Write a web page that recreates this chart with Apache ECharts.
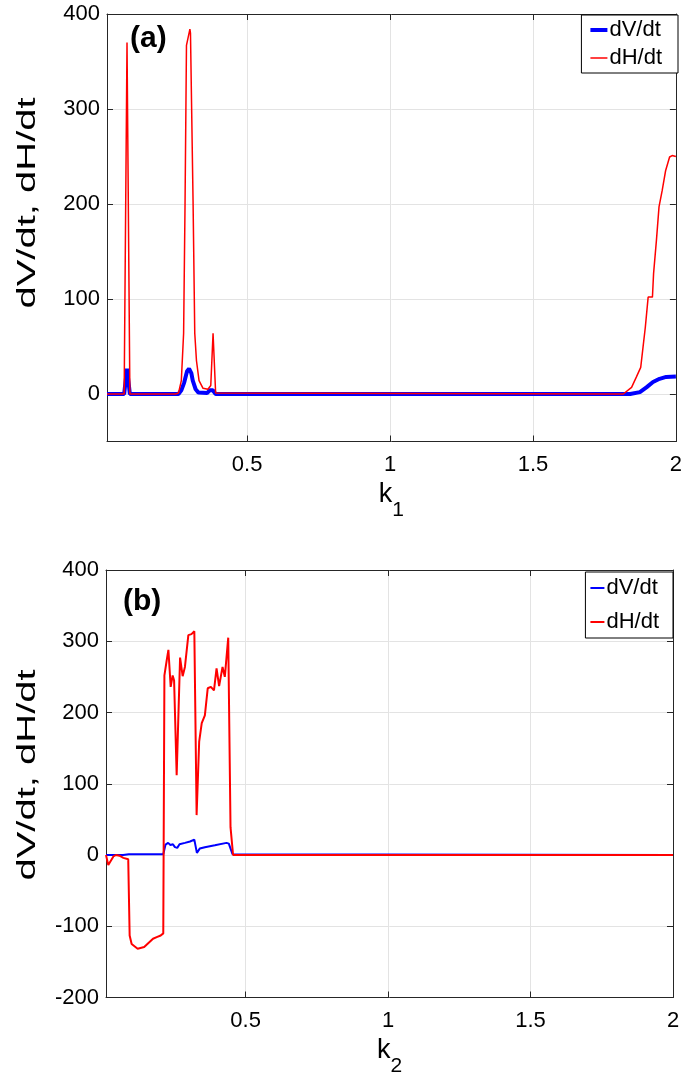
<!DOCTYPE html>
<html><head><meta charset="utf-8">
<script src="https://cdn.jsdelivr.net/npm/echarts@6/dist/echarts.min.js"></script>
<style>html,body{margin:0;padding:0;background:#fff}#c{width:685px;height:1083px}</style>
</head><body><div id="c"></div>
<script>
// ---- data ----
const xTickValues = [0.5, 1, 1.5, 2];
const yTickValuesA = [0, 100, 200, 300, 400];
const yTickValuesB = [-200, -100, 0, 100, 200, 300, 400];

// panel (a): k1
const aV_x = [0.01,0.07,0.08,0.09,0.26,0.27,0.28,0.29,0.297,0.305,0.31,0.32,0.33,0.36,0.37,0.375,0.38,0.39,1.84,1.874,1.897,1.92,1.943,1.966,2.0];
const aV_y = [0,0,26.7,0,0,4,12,24,26.7,22,14,5,1.5,1,4,6,4,0,0,2,7,12.6,16,18,18.4];
const aH_x = [0.01,0.07,0.08,0.09,0.25,0.26,0.27,0.278,0.283,0.288,0.30,0.302,0.311,0.317,0.323,0.332,0.346,0.363,0.373,0.381,0.39,1.80,1.816,1.845,1.862,1.877,1.885,1.893,1.903,1.918,1.922,1.932,1.941,1.952,1.964,1.978,1.987,2.0];
const aH_y = [0,0,370,0,0,1,14,64,200,367,384,380,204,64,35,14,6,5,9,64,1,0,0,7,18,28,49,70,102,102,127,162,197,214,235,249.5,251,250];

// panel (b): k2
const bV_x = [0.01,0.07,0.09,0.211,0.219,0.228,0.236,0.245,0.252,0.26,0.268,0.287,0.305,0.32,0.329,0.339,0.357,0.392,0.433,0.441,0.454,0.46,2.0];
const bV_y = [0,0,1,1,14.6,17,14,15,11,10,15,17,19,21.6,3,9,11,13.6,17,16,1,0,0];
const bH_x = [0.01,0.018,0.036,0.045,0.057,0.071,0.088,0.093,0.10,0.121,0.144,0.175,0.19,0.202,0.209,0.211,0.215,0.223,0.229,0.237,0.244,0.249,0.258,0.27,0.279,0.287,0.299,0.31,0.32,0.328,0.337,0.346,0.357,0.367,0.378,0.389,0.398,0.407,0.419,0.427,0.439,0.447,0.456,2.0];
const bH_y = [0,-14,-2,0,-1,-4,-6,-113,-125,-131.5,-129,-117.5,-115,-113,-112,-110,252,273,288,236,252,245,112,277,251,264,308.6,310,314,56,159,185,196,234,236,231,262,237,264,250,305,39,0,0];

const zip = (xs, ys) => xs.map((x, i) => [x, ys[i]]);

const FONT = '"Liberation Sans", Arial, sans-serif';
const AX = '#262626';
const GRIDC = '#e3e3e3';

function xAxes(grid) {
  const base = {
    type: 'value', gridIndex: grid, min: 0.01, max: 2, position: 'bottom',
    axisLine: { show: true, onZero: false, lineStyle: { color: AX, width: 1 } },
    axisTick: { show: true, inside: true, length: 6, customValues: xTickValues, lineStyle: { color: AX } },
    axisLabel: { customValues: xTickValues, fontSize: 22, fontFamily: FONT, color: '#000', margin: 12 },
    splitLine: { show: true, lineStyle: { color: GRIDC, width: 1 } },
    name: '{k|k}{s|' + (grid + 1) + '}',
    nameLocation: 'middle',
    nameGap: 40,
    nameTextStyle: {
      rich: {
        k: { fontSize: 27, fontFamily: FONT, color: '#000', lineHeight: 27, verticalAlign: 'top' },
        s: { fontSize: 21, fontFamily: FONT, color: '#000', lineHeight: 21, verticalAlign: 'top', padding: [18, 0, 0, 0] }
      }
    }
  };
  const top = {
    type: 'value', gridIndex: grid, min: 0.01, max: 2, position: 'top',
    axisLine: { show: true, onZero: false, lineStyle: { color: AX, width: 1 } },
    axisTick: { show: true, inside: true, length: 6, customValues: xTickValues, lineStyle: { color: AX } },
    axisLabel: { show: false, customValues: xTickValues },
    splitLine: { show: false }
  };
  return [base, top];
}

function yAxes(grid, min, max, ticks) {
  const left = {
    type: 'value', gridIndex: grid, min: min, max: max, position: 'left',
    axisLine: { show: true, onZero: false, lineStyle: { color: AX, width: 1 } },
    axisTick: { show: true, inside: true, length: 6, customValues: ticks, lineStyle: { color: AX } },
    axisLabel: { customValues: ticks, fontSize: 22, fontFamily: FONT, color: '#000', margin: 7 },
    splitLine: { show: true, lineStyle: { color: GRIDC, width: 1 } }
  };
  const right = {
    type: 'value', gridIndex: grid, min: min, max: max, position: 'right',
    axisLine: { show: true, onZero: false, lineStyle: { color: AX, width: 1 } },
    axisTick: { show: true, inside: true, length: 6, customValues: ticks, lineStyle: { color: AX } },
    axisLabel: { show: false, customValues: ticks },
    splitLine: { show: false }
  };
  return [left, right];
}

const chart = echarts.init(document.getElementById('c'), null, { renderer: 'canvas' });

const lineSeries = (name, xi, yi, data, color, width, z) => ({
  type: 'line', name: name, xAxisIndex: xi, yAxisIndex: yi, data: data,
  symbol: 'none', showSymbol: false, animation: false, z: z,
  lineStyle: { color: color, width: width }, itemStyle: { color: color }
});

const hiddenSym = { opacity: 0 };

chart.setOption({
  animation: false,
  backgroundColor: '#fff',
  grid: [
    { left: 107, right: 7, top: 14, height: 427.5 },
    { left: 106, right: 12, top: 570, height: 427.5 }
  ],
  xAxis: [...xAxes(0), ...xAxes(1)],
  yAxis: [...yAxes(0, -50, 400, yTickValuesA), ...yAxes(1, -200, 400, yTickValuesB)],
  legend: [
    {
      orient: 'vertical', right: 7, top: 15, align: 'left',
      backgroundColor: '#fff', borderColor: '#000', borderWidth: 1, borderRadius: 0,
      padding: [4, 16, 4, 7], itemGap: 6, itemWidth: 17, itemHeight: 14,
      textStyle: { fontSize: 22, fontFamily: FONT, color: '#000', padding: [0, 0, 0, -3] },
      selectedMode: false,
      itemStyle: hiddenSym,
      data: [
        { name: 'dV/dt', itemStyle: hiddenSym, lineStyle: { width: 4, color: '#0000ff' } },
        { name: 'dH/dt', itemStyle: hiddenSym, lineStyle: { width: 1.5, color: '#ff0000' } }
      ]
    },
    {
      orient: 'vertical', right: 12, top: 572, align: 'left',
      backgroundColor: '#fff', borderColor: '#000', borderWidth: 1, borderRadius: 0,
      padding: [5, 14, 5, 4], itemGap: 12, itemWidth: 14, itemHeight: 14,
      textStyle: { fontSize: 22, fontFamily: FONT, color: '#000', padding: [0, 0, 0, -3] },
      selectedMode: false,
      itemStyle: hiddenSym,
      data: [
        { name: 'dV/dt', itemStyle: hiddenSym, lineStyle: { width: 2, color: '#0000ff' } },
        { name: 'dH/dt', itemStyle: hiddenSym, lineStyle: { width: 2, color: '#ff0000' } }
      ]
    }
  ],
  graphic: [
    { type: 'text', left: 130, top: 24, z: 100,
      style: { text: '(a)', fontSize: 30, fontWeight: 'bold', fontFamily: FONT, fill: '#000' } },
    { type: 'text', left: 123, top: 587, z: 100,
      style: { text: '(b)', fontSize: 30, fontWeight: 'bold', fontFamily: FONT, fill: '#000' } },
    { type: 'text', x: 28, y: 203, rotation: Math.PI / 2, scaleX: 1.6, z: 100,
      style: { text: 'dV/dt, dH/dt', fontSize: 25, fontFamily: FONT, fill: '#000', align: 'center', verticalAlign: 'middle' } },
    { type: 'text', x: 28, y: 775, rotation: Math.PI / 2, scaleX: 1.6, z: 100,
      style: { text: 'dV/dt, dH/dt', fontSize: 25, fontFamily: FONT, fill: '#000', align: 'center', verticalAlign: 'middle' } }
  ],
  series: [
    lineSeries('dV/dt', 0, 0, zip(aV_x, aV_y), '#0000ff', 4, 2),
    lineSeries('dH/dt', 0, 0, zip(aH_x, aH_y), '#ff0000', 1.5, 3),
    lineSeries('dV/dt', 2, 2, zip(bV_x, bV_y), '#0000ff', 2, 2),
    lineSeries('dH/dt', 2, 2, zip(bH_x, bH_y), '#ff0000', 2, 3)
  ]
});
</script>
</body></html>
